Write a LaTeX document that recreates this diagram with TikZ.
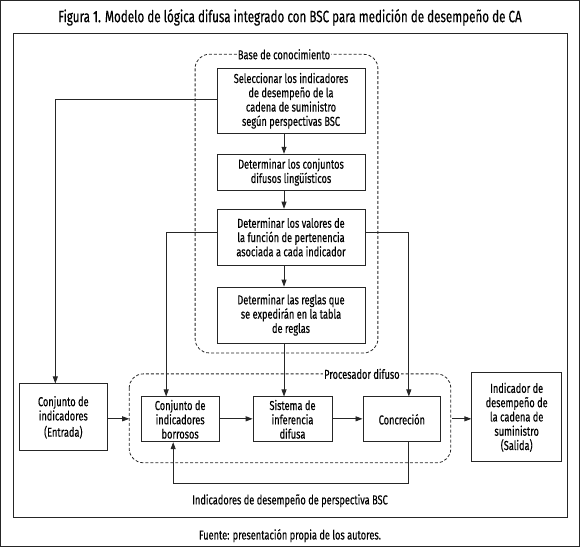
\documentclass[tikz,border=0pt]{standalone}
\usepackage{fontspec}
\setmainfont{Fira Sans}[FakeStretch=0.71,FakeBold=0.3]
\usetikzlibrary{arrows.meta,positioning}

\begin{document}
\begin{tikzpicture}[x=1pt,y=-1pt,
    font=\fontsize{13}{14.3}\selectfont,
    caja/.style={draw,align=center,inner sep=1pt},
    grupo/.style={draw,dash pattern=on 3pt off 2pt,rounded corners=14pt},
    etiqueta/.style={fill=white,inner sep=1pt},
    flecha/.style={-{Triangle[length=7pt,width=5pt]}},
    every path/.style={draw=black!85,thick}]
    \useasboundingbox (0,0) rectangle (580,547);
    \node[draw=none,font=\fontsize{16.4}{18}\selectfont] (titulo) at (290,17)
      {Figura 1. Modelo de lógica difusa integrado con BSC para medición de desempeño de CA};
    \draw (13,33) rectangle (568,518);
    % base de conocimiento
    \draw[grupo] (195,54) rectangle (378,353);
    \node[etiqueta] (base) at (284,54) {Base de conocimiento};
    \node[caja,minimum width=148,minimum height=65] (k1) at (291,100.5)
      {Seleccionar los indicadores\\de desempeño de la\\cadena de suministro\\según perspectivas BSC};
    \node[caja,minimum width=148,minimum height=36] (k2) at (291,172)
      {Determinar los conjuntos\\difusos lingüísticos};
    \node[caja,minimum width=148,minimum height=56] (k3) at (291,237)
      {Determinar los valores de\\la función de pertenencia\\asociada a cada indicador};
    \node[caja,minimum width=148,minimum height=56] (k4) at (291,315)
      {Determinar las reglas que\\se expedirán en la tabla\\de reglas};
    % procesador difuso
    \draw[grupo] (129,374) rectangle (451,463);
    \node[etiqueta] (proc) at (362,374) {Procesador difuso};
    \node[caja,minimum width=88,minimum height=67] (ent) at (63,417.5)
      {Conjunto de\\indicadores\\[2pt](Entrada)};
    \node[caja,minimum width=78,minimum height=45] (p1) at (180,419.5)
      {Conjunto de\\indicadores\\borrosos};
    \node[caja,minimum width=79,minimum height=45] (p2) at (292.5,419.5)
      {Sistema de\\inferencia\\difusa};
    \node[caja,minimum width=78,minimum height=45] (p3) at (402,419.5) {Concreción};
    \node[caja,minimum width=90,minimum height=89] (sal) at (517,417.5)
      {Indicador de\\desempeño de\\la cadena de\\suministro\\(Salida)};
    \node[draw=none] (bsc) at (290,501) {Indicadores de desempeño de perspectiva BSC};
    \node[draw=none] (fuente) at (290,536) {Fuente: presentación propia de los autores.};
    % conectores
    \coordinate (eje) at (284,0);
    \coordinate (izq) at (55,0);
    \coordinate (ci) at (166,0);
    \coordinate (cd) at (409,0);
    \coordinate (cb) at (173,0);
    \coordinate (fondo) at (0,484);
    \coordinate (fila) at (0,419);
    \coordinate (pw) at (129,419);
    \coordinate (pe) at (452,419);
    \draw[flecha] (k1.south -| eje) -- (k2.north -| eje);
    \draw[flecha] (k2.south -| eje) -- (k3.north -| eje);
    \draw[flecha] (k3.south -| eje) -- (k4.north -| eje);
    \draw[flecha] (k4.south -| eje) -- (p2.north -| eje);
    \draw[flecha] (k1.west |- 0,99) -| (ent.north -| izq);
    \draw[flecha] (k3.west |- 0,232) -| (p1.north -| ci);
    \draw[flecha] (k3.east |- 0,232) -| (p3.north -| cd);
    \draw[flecha] (ent.east |- fila) -- (pw);
    \draw[flecha] (p1.east |- fila) -- (p2.west |- fila);
    \draw[flecha] (p2.east |- fila) -- (p3.west |- fila);
    \draw[flecha] (pe) -- (sal.west |- fila);
    \draw[flecha] (p3.south -| cd) -- (fondo -| cd) -- (fondo -| cb) -- (p1.south -| cb);
\end{tikzpicture}
\end{document}
